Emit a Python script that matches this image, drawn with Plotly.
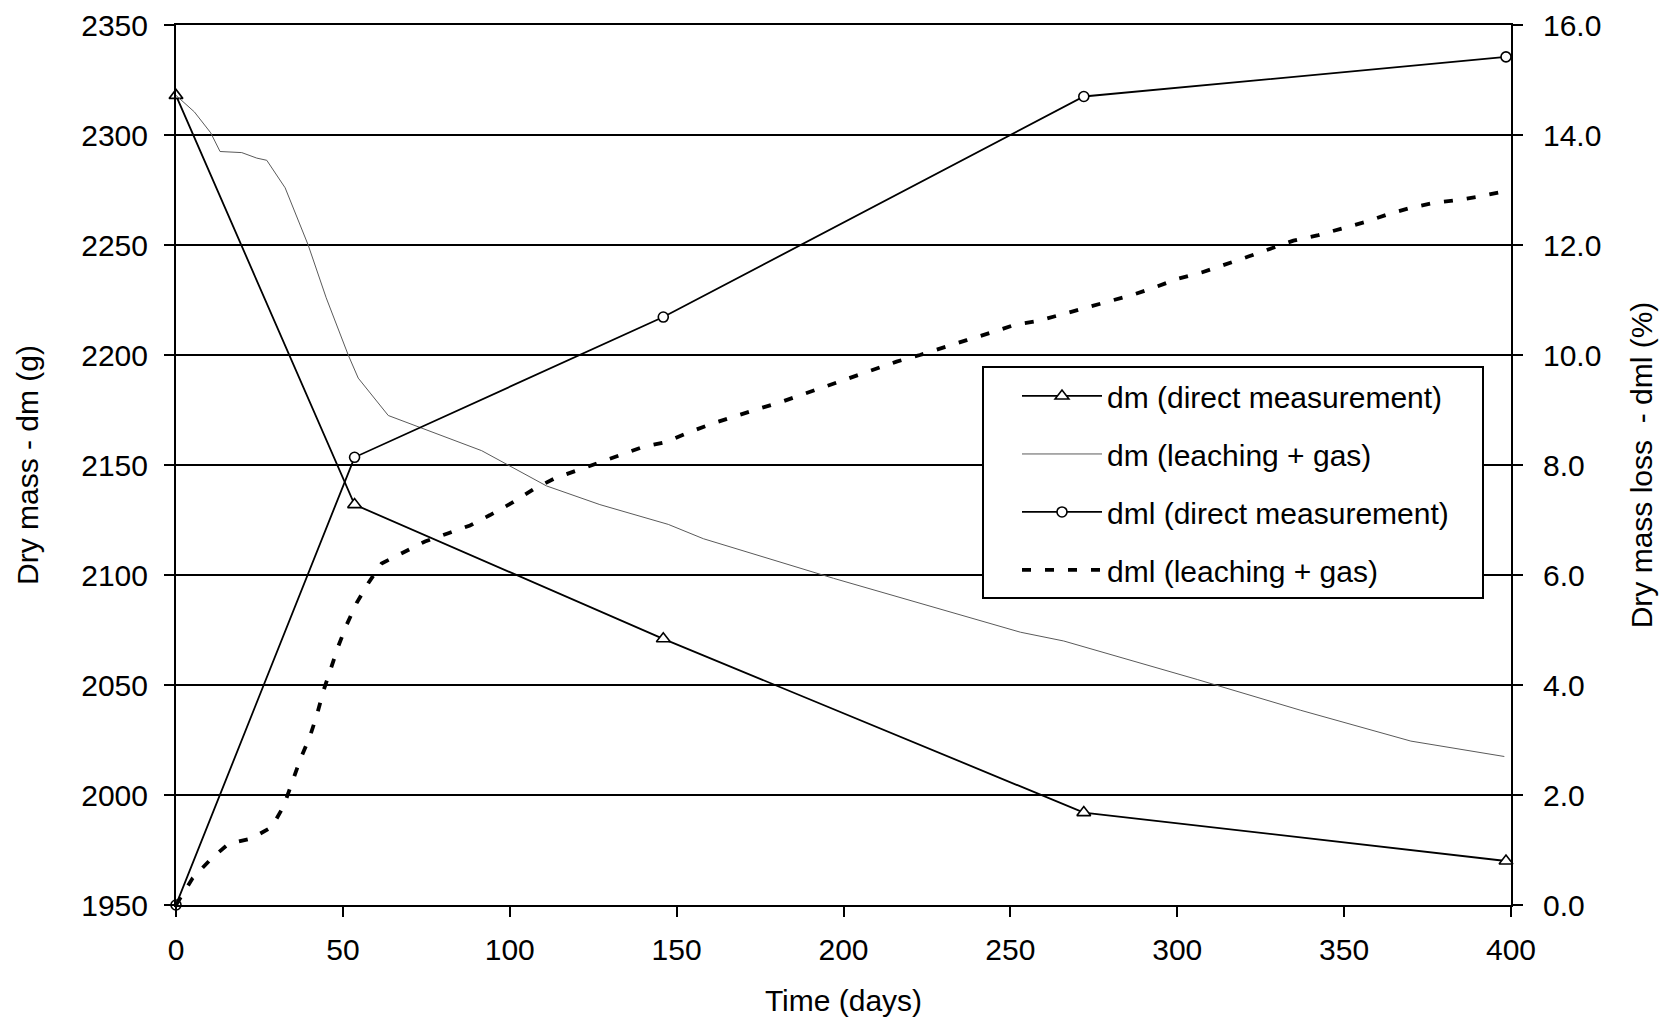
import plotly.graph_objects as go

# Sampling days of the direct (destructive) measurements
t_direct = [0, 53.5, 146, 272, 398.5]
dm_direct = [2318, 2132, 2071, 1992, 1970]          # dry mass, g
dml_direct = [0.0, 8.14, 10.69, 14.70, 15.42]       # dry mass loss, %

# Dry mass from cumulative leaching + gas losses
t_dm_leach = [0, 5.5, 10.4, 13.2, 19.7, 24.2, 27.2, 32.7, 39.6, 45, 51.6, 54.6,
              63.6, 74, 91.6, 111, 127, 147.5, 158, 197, 253, 266, 296, 306,
              337, 370, 398]
dm_leach = [2318, 2310.5, 2301, 2292.5, 2292, 2289.5, 2288.5, 2276, 2250, 2226,
            2200, 2189.5, 2172.5, 2166.5, 2156.5, 2140.5, 2132, 2123, 2116.5,
            2098.5, 2074, 2070, 2057, 2052.5, 2038.5, 2024.5, 2017.5]

# Dry mass loss from cumulative leaching + gas losses
t_dml_leach = [0, 5, 10.7, 15.7, 22.7, 28.7, 32.2, 34.7, 37.2, 40.1, 42.2, 44.1,
               46.1, 48.6, 51.1, 54.1, 57.6, 61.6, 68.1, 74.6, 81.6, 88.1, 94.1,
               100.6, 107.1, 113.6, 120.1, 126.5, 133, 140, 147, 153.5, 161, 168,
               175, 181.5, 188.5, 195.5, 201.9, 208.9, 215.9, 222.9, 229.9, 236.9,
               244.4, 251.4, 258.4, 264.9, 271.9, 279.3, 286.4, 293.3, 300.3,
               307.3, 314.3, 321.3, 328.3, 334.8, 342.3, 349.3, 356.4, 363.2,
               370.2, 377.2, 384.2, 391.2, 397.5]
dml_leach = [0.0, 0.49, 0.85, 1.11, 1.21, 1.42, 1.79, 2.21, 2.64, 3.06, 3.45, 3.88,
             4.27, 4.70, 5.09, 5.49, 5.85, 6.21, 6.41, 6.61, 6.76, 6.90, 7.09,
             7.31, 7.56, 7.76, 7.90, 8.04, 8.18, 8.33, 8.42, 8.59, 8.76, 8.90,
             9.03, 9.15, 9.30, 9.44, 9.58, 9.73, 9.88, 10.0, 10.14, 10.27,
             10.41, 10.55, 10.62, 10.73, 10.85, 10.97, 11.09, 11.23, 11.39,
             11.5, 11.64, 11.79, 11.94, 12.08, 12.18, 12.3, 12.42, 12.56,
             12.68, 12.77, 12.82, 12.89, 12.97]

FONT = "Liberation Sans, Arial, sans-serif"

fig = go.Figure()

fig.add_trace(go.Scatter(
    x=t_direct, y=dm_direct, name="dm (direct measurement)",
    mode="lines+markers", legendgroup="a",
    line=dict(color="black", width=1.8),
    marker=dict(symbol="triangle-up", size=12, color="white",
                line=dict(color="black", width=1.6)),
    cliponaxis=False,
))
fig.add_trace(go.Scatter(
    x=t_dm_leach, y=dm_leach, name="dm (leaching + gas)",
    mode="lines", legendgroup="b",
    line=dict(color="#5a5a5a", width=1),
))
fig.add_trace(go.Scatter(
    x=t_direct, y=dml_direct, name="dml (direct measurement)",
    mode="lines+markers", legendgroup="c", yaxis="y2",
    line=dict(color="black", width=1.8),
    marker=dict(symbol="circle", size=10, color="white",
                line=dict(color="black", width=1.6)),
    cliponaxis=False,
))
fig.add_trace(go.Scatter(
    x=t_dml_leach, y=dml_leach, name="dml (leaching + gas)",
    mode="lines", legendgroup="d", yaxis="y2",
    line=dict(color="black", width=3.8, dash="9px,14px"),
))

# Legend frame: a white box drawn over the plot, the legend entries sit inside it
fig.add_shape(
    type="rect", xref="paper", yref="paper",
    x0=(983 - 176) / 1335, x1=(1483 - 176) / 1335,
    y0=1 - (598 - 25) / 880, y1=1 - (367 - 25) / 880,
    fillcolor="white", line=dict(color="black", width=2), layer="above",
)

fig.update_layout(
    width=1663, height=1021,
    margin=dict(l=176, r=152, t=25, b=116, autoexpand=False),
    paper_bgcolor="white", plot_bgcolor="white",
    font=dict(family=FONT, size=30, color="black"),
    showlegend=True,
    legend=dict(
        x=(1017 - 176) / 1335, y=0.6080, xanchor="left", yanchor="top",
        bgcolor="rgba(0,0,0,0)", borderwidth=0,
        font=dict(family=FONT, size=30, color="black"),
        tracegroupgap=16, itemwidth=80, traceorder="grouped",
    ),
    xaxis=dict(
        range=[0, 400], dtick=50, tick0=0, automargin=False,
        showgrid=False, zeroline=False,
        showline=True, linecolor="black", linewidth=2, mirror=True,
        ticks="outside", ticklen=10, tickwidth=2, tickcolor="black",
        ticklabelstandoff=7,
        title=dict(text="Time (days)", standoff=25,
                   font=dict(family=FONT, size=30)),
    ),
    yaxis=dict(
        range=[1950, 2350], dtick=50, tick0=1950, automargin=False,
        showgrid=True, gridcolor="black", gridwidth=1.6,
        zeroline=False,
        showline=True, linecolor="black", linewidth=2,
        ticks="outside", ticklen=10, tickwidth=2, tickcolor="black",
        ticklabelstandoff=10,
        title=dict(text="Dry mass - dm (g)", standoff=34,
                   font=dict(family=FONT, size=30)),
    ),
    yaxis2=dict(
        range=[0, 16], dtick=2, tick0=0, tickformat=".1f", automargin=False,
        overlaying="y", side="right",
        showgrid=False, zeroline=False,
        showline=True, linecolor="black", linewidth=2,
        ticks="outside", ticklen=10, tickwidth=2, tickcolor="black",
        ticklabelstandoff=14,
        title=dict(text="Dry mass loss  - dml (%)", standoff=31,
                   font=dict(family=FONT, size=30)),
    ),
)

fig.write_html("out.html")
